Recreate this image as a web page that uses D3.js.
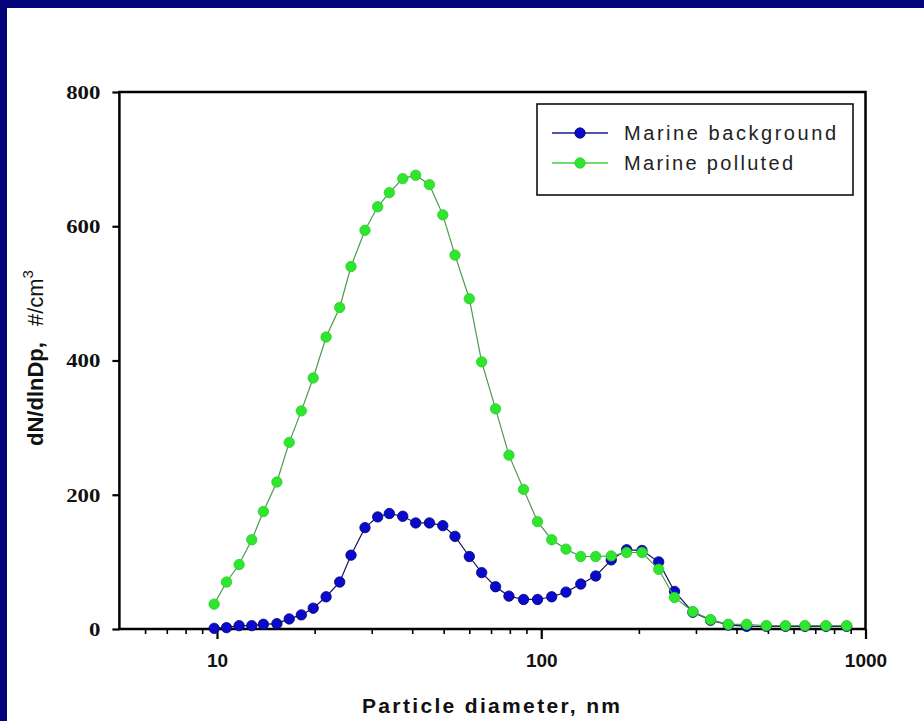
<!DOCTYPE html>
<html>
<head>
<meta charset="utf-8">
<script src="https://cdn.jsdelivr.net/npm/d3@7"></script>
<style>
  html, body { margin: 0; padding: 0; background: #ffffff; }
  svg { display: block; }
</style>
</head>
<body>
<svg id="chart" width="924" height="721"></svg>
<script>
// Particle number size distributions (dN/dlnDp, #/cm^3) vs. mobility diameter (nm)
const diameters = [
  9.8, 10.7, 11.7, 12.8, 13.9, 15.3, 16.7, 18.2, 19.8, 21.7,
  23.9, 25.9, 28.6, 31.3, 34.0, 37.4, 41.0, 45.2, 49.7, 54.2,
  60.0, 65.5, 72.3, 79.5, 88.2, 97.4, 107.7, 119.2, 132.4, 147.2,
  164.4, 183.4, 204.5, 230.2, 257.6, 293.4, 332.7, 377.5, 430.1, 494.4,
  566.7, 650.7, 755.3, 875.0
];
const marineBackground = [
  1, 2, 5, 5, 7, 8, 15, 21, 31, 48,
  70, 110, 151, 167, 172, 168, 158, 158, 154, 138,
  108, 84, 63, 49, 44, 44, 48, 55, 67, 79,
  103, 118, 117, 100, 56, 25, 13, 6, 4, 4,
  4, 4, 4, 4
];
const marinePolluted = [
  37, 70, 96, 133, 175, 219, 278, 325, 374, 435,
  479, 540, 594, 629, 650, 671, 676, 662, 617, 557,
  492, 398, 328, 259, 208, 160, 133, 119, 108, 108,
  109, 114, 114, 89, 47, 26, 14, 7, 7, 5,
  5, 5, 5, 5
];
const seriesNames = ["Marine background", "Marine polluted"];
const yTickValues = [0, 200, 400, 600, 800];
const xMajorTicks = [10, 100, 1000];
const xMinorTicks = [6, 7, 8, 9, 20, 30, 40, 50, 60, 70, 80, 90, 200, 300, 400, 500, 600, 700, 800, 900];

const svg = d3.select("#chart");
const W = 924, H = 721;
const plot = { left: 119.4, right: 865.5, top: 92, bottom: 629 };

// page background with the slide's navy edges
svg.append("rect").attr("width", W).attr("height", H).attr("fill", "#ffffff");
svg.append("rect").attr("x", 0).attr("y", 0).attr("width", W).attr("height", 8).attr("fill", "#04047a");
svg.append("rect").attr("x", 0).attr("y", 0).attr("width", 7).attr("height", H).attr("fill", "#04047a");

const x = d3.scaleLog().domain([5, 1000]).range([plot.left, plot.right]);
const y = d3.scaleLinear().domain([0, 800]).range([plot.bottom, plot.top]);

// frame
svg.append("rect")
  .attr("x", plot.left).attr("y", plot.top)
  .attr("width", plot.right - plot.left).attr("height", plot.bottom - plot.top)
  .attr("fill", "none").attr("stroke", "#000").attr("stroke-width", 2.5);

// x axis: minor ticks
const xMinor = svg.append("g").attr("transform", `translate(0,${plot.bottom})`)
  .call(d3.axisBottom(x).tickValues(xMinorTicks).tickSize(5).tickFormat(""));
xMinor.select(".domain").remove();
xMinor.selectAll("line").attr("stroke", "#000").attr("stroke-width", 1.6);

// x axis: major ticks and labels
const xMajor = svg.append("g").attr("transform", `translate(0,${plot.bottom})`)
  .call(d3.axisBottom(x).tickValues(xMajorTicks).tickSize(10).tickFormat(d3.format("d")));
xMajor.select(".domain").remove();
xMajor.selectAll("line").attr("stroke", "#000").attr("stroke-width", 2.2);
xMajor.selectAll("text")
  .attr("y", 38).attr("dy", 0)
  .attr("fill", "#111")
  .style("font-family", "Arial, 'Liberation Sans', sans-serif")
  .style("font-weight", "bold")
  .style("font-size", "19px");

// y axis
const yAxis = svg.append("g").attr("transform", `translate(${plot.left},0)`)
  .call(d3.axisLeft(y).tickValues(yTickValues).tickSize(7).tickPadding(12).tickFormat(d3.format("d")));
yAxis.select(".domain").remove();
yAxis.selectAll("line").attr("stroke", "#000").attr("stroke-width", 2.2);
yAxis.selectAll("text")
  .attr("dy", "0.34em")
  .attr("fill", "#111")
  .style("font-family", "'Times New Roman', 'Liberation Serif', serif")
  .style("font-weight", "bold")
  .style("font-size", "19px")
  .each(function () {
    const len = this.getComputedTextLength();
    d3.select(this).attr("textLength", len * 1.2).attr("lengthAdjust", "spacingAndGlyphs");
  });

// axis titles
svg.append("text")
  .attr("x", 491).attr("y", 713)
  .attr("text-anchor", "middle")
  .attr("textLength", 258).attr("lengthAdjust", "spacing")
  .attr("fill", "#111")
  .style("font-family", "Arial, 'Liberation Sans', sans-serif")
  .style("font-weight", "bold")
  .style("font-size", "21px")
  .text("Particle diameter,  nm");

const yTitle = svg.append("text")
  .attr("transform", "translate(43,358) rotate(-90)")
  .attr("text-anchor", "middle")
  .attr("fill", "#111")
  .style("font-family", "Arial, 'Liberation Sans', sans-serif")
  .style("font-size", "22px");
yTitle.append("tspan").style("font-weight", "bold").text("dN/dlnDp,");
yTitle.append("tspan").attr("dx", 16).text("#/cm");
yTitle.append("tspan").attr("dy", -10).style("font-size", "15px").text("3");

// series
const series = [
  { name: seriesNames[0], values: marineBackground, fill: "#0a0acf", stroke: "#00006a", line: "#14145a" },
  { name: seriesNames[1], values: marinePolluted, fill: "#2fe62f", stroke: "#2ccc2c", line: "#4c9a4c" }
];

const line = d3.line()
  .x((d, i) => x(diameters[i]))
  .y(d => y(d));

series.forEach(s => {
  const g = svg.append("g");
  g.append("path")
    .datum(s.values)
    .attr("d", line)
    .attr("fill", "none")
    .attr("stroke", s.line)
    .attr("stroke-width", 1.2);
  g.selectAll("circle")
    .data(s.values)
    .join("circle")
    .attr("cx", (d, i) => x(diameters[i]))
    .attr("cy", d => y(d))
    .attr("r", 5.2)
    .attr("fill", s.fill)
    .attr("stroke", s.stroke)
    .attr("stroke-width", 0.8);
});

// legend
const legend = svg.append("g");
legend.append("rect")
  .attr("x", 537).attr("y", 104).attr("width", 316).attr("height", 91)
  .attr("fill", "#fff").attr("stroke", "#111").attr("stroke-width", 1.6);
const legendRows = [133, 163];
series.forEach((s, i) => {
  const cy = legendRows[i];
  legend.append("line")
    .attr("x1", 552).attr("x2", 608).attr("y1", cy).attr("y2", cy)
    .attr("stroke", i === 0 ? "#1a1a8a" : "#3cd23c").attr("stroke-width", 1.4);
  legend.append("circle")
    .attr("cx", 580).attr("cy", cy).attr("r", 5.2)
    .attr("fill", s.fill).attr("stroke", s.stroke).attr("stroke-width", 0.8);
  legend.append("text")
    .attr("x", 624).attr("y", cy + 7)
    .attr("textLength", i === 0 ? 212 : 169).attr("lengthAdjust", "spacing")
    .attr("fill", "#222")
    .style("font-family", "Arial, 'Liberation Sans', sans-serif")
    .style("font-size", "20px")
    .text(s.name);
});
</script>
</body>
</html>
